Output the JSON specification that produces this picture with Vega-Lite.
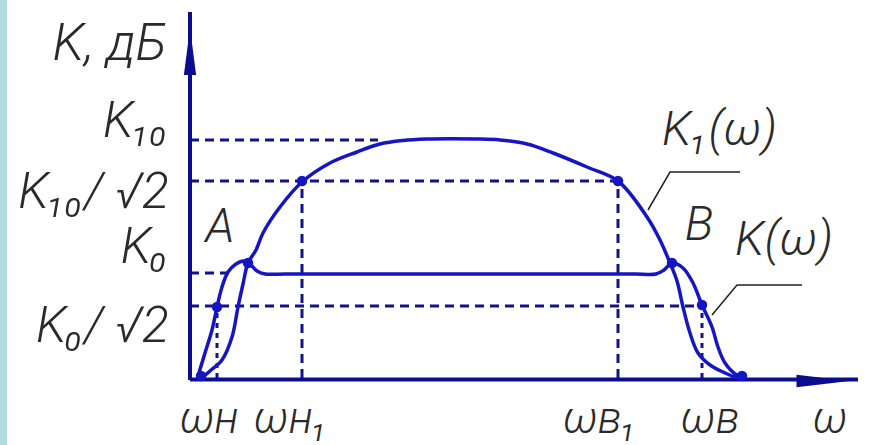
{
  "$schema": "https://vega.github.io/schema/vega-lite/v6.json",
  "width": 869,
  "height": 445,
  "autosize": {"type": "fit", "contains": "padding"},
  "padding": 0,
  "background": "white",
  "config": {"view": {"stroke": null}},
  "datasets": {
    "strip": [{"w": -190, "w2": -183, "k": -67, "k2": 378}],
    "axes": [
      {"axis": "K", "w": 0, "w2": 0, "k": -2, "k2": 366},
      {"axis": "omega", "w": 0, "w2": 668, "k": -1.5, "k2": -1.5}
    ],
    "arrowK": [{"w": 0, "k": 326.5}],
    "arrowW": [{"w": 633, "k": -3}],
    "levels": [
      {"ref": "K10", "w": 0, "w2": 188, "k": 238, "k2": 238},
      {"ref": "K10/√2", "w": 0, "w2": 428, "k": 197, "k2": 197},
      {"ref": "K0", "w": 0, "w2": 40, "k": 105, "k2": 105},
      {"ref": "K0/√2", "w": 0, "w2": 505, "k": 72, "k2": 72},
      {"ref": "ωн1", "w": 112, "w2": 112, "k": 0, "k2": 197},
      {"ref": "ωв1", "w": 428, "w2": 428, "k": 0, "k2": 197}
    ],
    "cutoffs": [
      {"ref": "ωн", "w": 27, "w2": 27, "k": 0, "k2": 71},
      {"ref": "ωв", "w": 512, "w2": 512, "k": 0, "k2": 73}
    ],
    "curves": [
      {"curve": "K1", "i": 0, "w": 13, "k": 1},
      {"curve": "K1", "i": 1, "w": 20, "k": 7},
      {"curve": "K1", "i": 2, "w": 32, "k": 18},
      {"curve": "K1", "i": 3, "w": 42, "k": 41},
      {"curve": "K1", "i": 4, "w": 48, "k": 71},
      {"curve": "K1", "i": 5, "w": 53, "k": 94},
      {"curve": "K1", "i": 6, "w": 58, "k": 115},
      {"curve": "K1", "i": 7, "w": 66, "k": 128},
      {"curve": "K1", "i": 8, "w": 73, "k": 145},
      {"curve": "K1", "i": 9, "w": 90, "k": 171},
      {"curve": "K1", "i": 10, "w": 112, "k": 196},
      {"curve": "K1", "i": 11, "w": 140, "k": 215},
      {"curve": "K1", "i": 12, "w": 167, "k": 226},
      {"curve": "K1", "i": 13, "w": 190, "k": 234},
      {"curve": "K1", "i": 14, "w": 213, "k": 237.5},
      {"curve": "K1", "i": 15, "w": 237, "k": 239},
      {"curve": "K1", "i": 16, "w": 260, "k": 239.3},
      {"curve": "K1", "i": 17, "w": 285, "k": 239},
      {"curve": "K1", "i": 18, "w": 310, "k": 238},
      {"curve": "K1", "i": 19, "w": 337, "k": 234},
      {"curve": "K1", "i": 20, "w": 363, "k": 225},
      {"curve": "K1", "i": 21, "w": 397, "k": 211},
      {"curve": "K1", "i": 22, "w": 428, "k": 197},
      {"curve": "K1", "i": 23, "w": 457, "k": 161},
      {"curve": "K1", "i": 24, "w": 470, "k": 138},
      {"curve": "K1", "i": 25, "w": 480, "k": 115},
      {"curve": "K1", "i": 26, "w": 487, "k": 97},
      {"curve": "K1", "i": 27, "w": 493, "k": 71},
      {"curve": "K1", "i": 28, "w": 500, "k": 45},
      {"curve": "K1", "i": 29, "w": 508, "k": 25},
      {"curve": "K1", "i": 30, "w": 520, "k": 13},
      {"curve": "K1", "i": 31, "w": 533, "k": 6},
      {"curve": "K1", "i": 32, "w": 545, "k": 1},
      {"curve": "K1", "i": 33, "w": 555, "k": 0},
      {"curve": "K", "i": 0, "w": 8, "k": 2},
      {"curve": "K", "i": 1, "w": 15, "k": 25},
      {"curve": "K", "i": 2, "w": 22, "k": 48},
      {"curve": "K", "i": 3, "w": 27, "k": 71},
      {"curve": "K", "i": 4, "w": 32, "k": 91},
      {"curve": "K", "i": 5, "w": 38, "k": 106},
      {"curve": "K", "i": 6, "w": 46, "k": 114},
      {"curve": "K", "i": 7, "w": 54, "k": 117},
      {"curve": "K", "i": 8, "w": 60, "k": 114},
      {"curve": "K", "i": 9, "w": 67, "k": 107},
      {"curve": "K", "i": 10, "w": 75, "k": 104},
      {"curve": "K", "i": 11, "w": 95, "k": 104},
      {"curve": "K", "i": 12, "w": 130, "k": 104},
      {"curve": "K", "i": 13, "w": 170, "k": 104},
      {"curve": "K", "i": 14, "w": 210, "k": 104},
      {"curve": "K", "i": 15, "w": 250, "k": 104},
      {"curve": "K", "i": 16, "w": 290, "k": 104},
      {"curve": "K", "i": 17, "w": 330, "k": 104},
      {"curve": "K", "i": 18, "w": 370, "k": 104},
      {"curve": "K", "i": 19, "w": 410, "k": 104},
      {"curve": "K", "i": 20, "w": 445, "k": 104},
      {"curve": "K", "i": 21, "w": 466, "k": 104},
      {"curve": "K", "i": 22, "w": 474, "k": 108},
      {"curve": "K", "i": 23, "w": 482, "k": 115},
      {"curve": "K", "i": 24, "w": 493, "k": 110},
      {"curve": "K", "i": 25, "w": 503, "k": 95},
      {"curve": "K", "i": 26, "w": 512, "k": 73},
      {"curve": "K", "i": 27, "w": 522, "k": 51},
      {"curve": "K", "i": 28, "w": 528, "k": 31},
      {"curve": "K", "i": 29, "w": 535, "k": 15},
      {"curve": "K", "i": 30, "w": 547, "k": 3},
      {"curve": "K", "i": 31, "w": 557, "k": 1}
    ],
    "dots": [
      {"name": "ωн", "w": 27, "k": 71},
      {"name": "A", "w": 58, "k": 115},
      {"name": "ωн1", "w": 112, "k": 197},
      {"name": "ωв1", "w": 428, "k": 197},
      {"name": "B", "w": 482, "k": 115},
      {"name": "ωв", "w": 512, "k": 73},
      {"name": "start", "w": 11, "k": 2},
      {"name": "end", "w": 552, "k": 2}
    ],
    "leaders": [
      {"label": "K1", "i": 0, "w": 458, "k": 168},
      {"label": "K1", "i": 1, "w": 480, "k": 206},
      {"label": "K1", "i": 2, "w": 550, "k": 206},
      {"label": "K", "i": 0, "w": 522, "k": 63},
      {"label": "K", "i": 1, "w": 547, "k": 93},
      {"label": "K", "i": 2, "w": 612, "k": 93}
    ],
    "title": [{"t": "K, дБ", "w": -80, "k": 318}],
    "ylabels": [
      {"t": "K₁₀", "w": -21, "k": 241},
      {"t": "K₁₀/ √2", "w": -21, "k": 170},
      {"t": "K₀", "w": -21, "k": 115},
      {"t": "K₀/ √2", "w": -21, "k": 36}
    ],
    "xlabels": [
      {"t": "ωн", "w": 19, "k": -55},
      {"t": "ωн₁", "w": 101, "k": -55},
      {"t": "ωв₁", "w": 410, "k": -55},
      {"t": "ωв", "w": 520, "k": -55},
      {"t": "ω", "w": 640, "k": -55}
    ],
    "points": [
      {"t": "A", "w": 30, "k": 136},
      {"t": "B", "w": 509, "k": 138}
    ],
    "curvelabels": [
      {"t": "K₁(ω)", "w": 472, "k": 233},
      {"t": "K(ω)", "w": 545, "k": 123}
    ]
  },
  "encoding": {
    "x": {"field": "w", "type": "quantitative", "axis": null, "scale": {"domain": [-190, 679], "nice": false, "zero": false}},
    "y": {"field": "k", "type": "quantitative", "axis": null, "scale": {"domain": [-67, 378], "nice": false, "zero": false}}
  },
  "layer": [
    {
      "data": {"name": "strip"},
      "mark": {"type": "rect", "color": "#b2dce2"},
      "encoding": {"x2": {"field": "w2"}, "y2": {"field": "k2"}}
    },
    {
      "data": {"name": "levels"},
      "mark": {"type": "rule", "color": "#12128a", "strokeWidth": 3, "strokeDash": [9, 6]},
      "encoding": {"x2": {"field": "w2"}, "y2": {"field": "k2"}}
    },
    {
      "data": {"name": "cutoffs"},
      "mark": {"type": "rule", "color": "#12128a", "strokeWidth": 3, "strokeDash": [5, 5]},
      "encoding": {"x2": {"field": "w2"}, "y2": {"field": "k2"}}
    },
    {
      "data": {"name": "axes"},
      "mark": {"type": "rule", "color": "#0c0c90", "strokeWidth": 4},
      "encoding": {"x2": {"field": "w2"}, "y2": {"field": "k2"}}
    },
    {
      "data": {"name": "arrowK"},
      "mark": {"type": "point", "shape": "M0,-1L0.26,1L-0.26,1Z", "size": 2209, "filled": true, "opacity": 1, "color": "#0c0c90"}
    },
    {
      "data": {"name": "arrowW"},
      "mark": {"type": "point", "shape": "M1,0L-1,0.24L-1,-0.24Z", "size": 2809, "filled": true, "opacity": 1, "color": "#0c0c90"}
    },
    {
      "data": {"name": "curves"},
      "mark": {"type": "line", "color": "#1515c4", "strokeWidth": 3.5, "interpolate": "catmull-rom"},
      "encoding": {"detail": {"field": "curve"}, "order": {"field": "i", "type": "quantitative"}}
    },
    {
      "data": {"name": "dots"},
      "mark": {"type": "point", "shape": "circle", "filled": true, "opacity": 1, "size": 110, "color": "#1515c4"}
    },
    {
      "data": {"name": "leaders"},
      "mark": {"type": "line", "color": "#222222", "strokeWidth": 1.5},
      "encoding": {"detail": {"field": "label"}, "order": {"field": "i", "type": "quantitative"}}
    },
    {
      "data": {"name": "title"},
      "mark": {"type": "text", "font": "Roboto", "fontWeight": 300, "fontStyle": "italic", "fontSize": 52, "color": "#2a2a2a", "align": "center", "baseline": "alphabetic"},
      "encoding": {"text": {"field": "t"}}
    },
    {
      "data": {"name": "ylabels"},
      "mark": {"type": "text", "font": "Roboto", "fontWeight": 300, "fontStyle": "italic", "fontSize": 50, "color": "#2a2a2a", "align": "right", "baseline": "alphabetic"},
      "encoding": {"text": {"field": "t"}}
    },
    {
      "data": {"name": "xlabels"},
      "mark": {"type": "text", "font": "Roboto", "fontWeight": 300, "fontStyle": "italic", "fontSize": 44, "color": "#2a2a2a", "align": "center", "baseline": "alphabetic"},
      "encoding": {"text": {"field": "t"}}
    },
    {
      "data": {"name": "points"},
      "mark": {"type": "text", "font": "Roboto", "fontWeight": 300, "fontStyle": "italic", "fontSize": 48, "color": "#2a2a2a", "align": "center", "baseline": "alphabetic"},
      "encoding": {"text": {"field": "t"}}
    },
    {
      "data": {"name": "curvelabels"},
      "mark": {"type": "text", "font": "Roboto", "fontWeight": 300, "fontStyle": "italic", "fontSize": 48, "color": "#2a2a2a", "align": "left", "baseline": "alphabetic"},
      "encoding": {"text": {"field": "t"}}
    }
  ]
}
